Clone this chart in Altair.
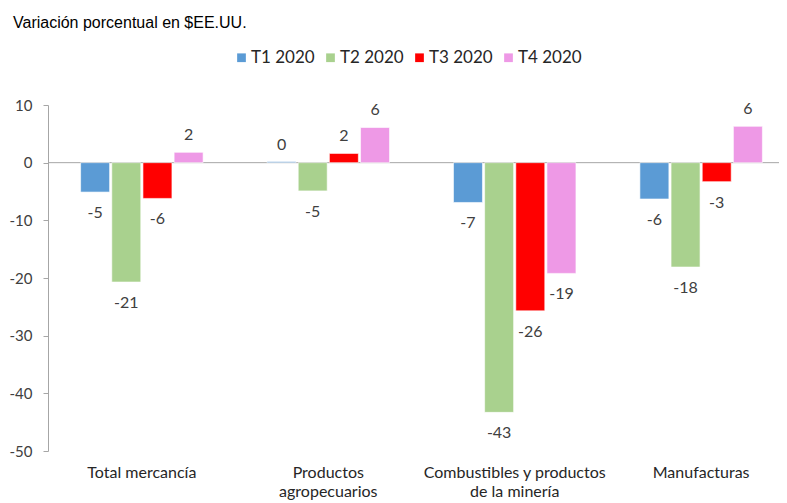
import altair as alt
import pandas as pd

# ---- data ----
categories = ["Total mercancía", "Productos agropecuarios",
              "Combustibles y productos de la minería", "Manufacturas"]
category_lines = [["Total mercancía"], ["Productos", "agropecuarios"],
                  ["Combustibles y productos", "de la minería"], ["Manufacturas"]]
series = ["T1 2020", "T2 2020", "T3 2020", "T4 2020"]
t1 = [-5.1, 0.2, -6.9, -6.3]
t2 = [-20.7, -4.9, -43.3, -18.1]
t3 = [-6.2, 1.6, -25.7, -3.3]
t4 = [1.8, 6.1, -19.2, 6.3]
colors = ["#5b9bd5", "#a9d18e", "#ff0000", "#ee99e6"]
y_ticks = [-50, -40, -30, -20, -10, 0, 10]
title_text = "Variación porcentual en $EE.UU."

rows = []
for s, vals in zip(series, [t1, t2, t3, t4]):
    for c, v in zip(categories, vals):
        rows.append({"categoria": c, "serie": s, "valor": v})
df = pd.DataFrame(rows)

# label expression for wrapped category names
expr = "''"
for c, lines in reversed(list(zip(categories, category_lines))):
    arr = "[" + ", ".join("'" + l + "'" for l in lines) + "]"
    expr = f"datum.value == '{c}' ? {arr} : ({expr})"

x_enc = alt.X("categoria:N", sort=categories, title=None,
              scale=alt.Scale(paddingInner=0.343, paddingOuter=0.175, range=[0, 747]),
              axis=alt.Axis(domain=False, ticks=False, labelAngle=0, labelExpr=expr,
                            labelFont="Lato", labelFontSize=16, labelColor="#262626",
                            labelBaseline="top", labelPadding=13, labelLineHeight=19,
                            labelLimit=300))
xo_enc = alt.XOffset("serie:N", sort=series, scale=alt.Scale(paddingInner=0.07, paddingOuter=0))
y_scale = alt.Scale(domain=[-50, 10], nice=False)

base = alt.Chart(df).transform_calculate(etiqueta="toString(round(datum.valor))")

bars = base.mark_bar(stroke="white", strokeWidth=0.6).encode(
    x=x_enc,
    xOffset=xo_enc,
    y=alt.Y("valor:Q", scale=y_scale, title=None,
            axis=alt.Axis(values=y_ticks, grid=False, domainColor="#a6a6a6",
                          tickColor="#a6a6a6", tickSize=5, labelPadding=11,
                          labelExpr="toString(datum.value)",
                          labelFont="Lato", labelFontSize=15, labelColor="#404040")),
    color=alt.Color("serie:N", sort=series, scale=alt.Scale(domain=series, range=colors),
                    legend=alt.Legend(title=None, orient="none", direction="horizontal",
                                      legendX=185, legendY=-56, symbolType="square",
                                      symbolSize=76, symbolStrokeWidth=0, labelOffset=1,
                                      columnPadding=7, labelFont="Lato", labelFontSize=17,
                                      labelColor="#262626", padding=0)),
)

zero = alt.Chart(pd.DataFrame({"v": [0]})).mark_rule(color="#a6a6a6", strokeWidth=1).encode(
    y=alt.Y("v:Q", scale=y_scale), x=alt.value(0), x2=alt.value(731))

pos_labels = base.transform_filter("datum.valor >= 0").mark_text(
    font="Lato", fontSize=16, color="#404040", baseline="middle", dy=-17).encode(
    x=alt.X("categoria:N", sort=categories), xOffset=xo_enc,
    y=alt.Y("valor:Q", scale=y_scale), text="etiqueta:N")

neg_labels = base.transform_filter("datum.valor < 0").mark_text(
    font="Lato", fontSize=16, color="#404040", baseline="middle", dy=21).encode(
    x=alt.X("categoria:N", sort=categories), xOffset=xo_enc,
    y=alt.Y("valor:Q", scale=y_scale), text="etiqueta:N")

chart = alt.layer(zero, bars, pos_labels, neg_labels).properties(
    width=723, height=346,
    autosize=alt.AutoSizeParams(type="none"),
    padding={"left": 40, "top": 97, "right": 8, "bottom": 52},
    title=alt.TitleParams(title_text, anchor="start", frame="group", orient="top",
                          font="Liberation Sans", fontSize=16, fontWeight="normal",
                          color="#000000", baseline="alphabetic", offset=5, dx=-35),
).configure_view(stroke=None)

chart.save("out.html", embed_options={"renderer": "svg", "actions": False})
